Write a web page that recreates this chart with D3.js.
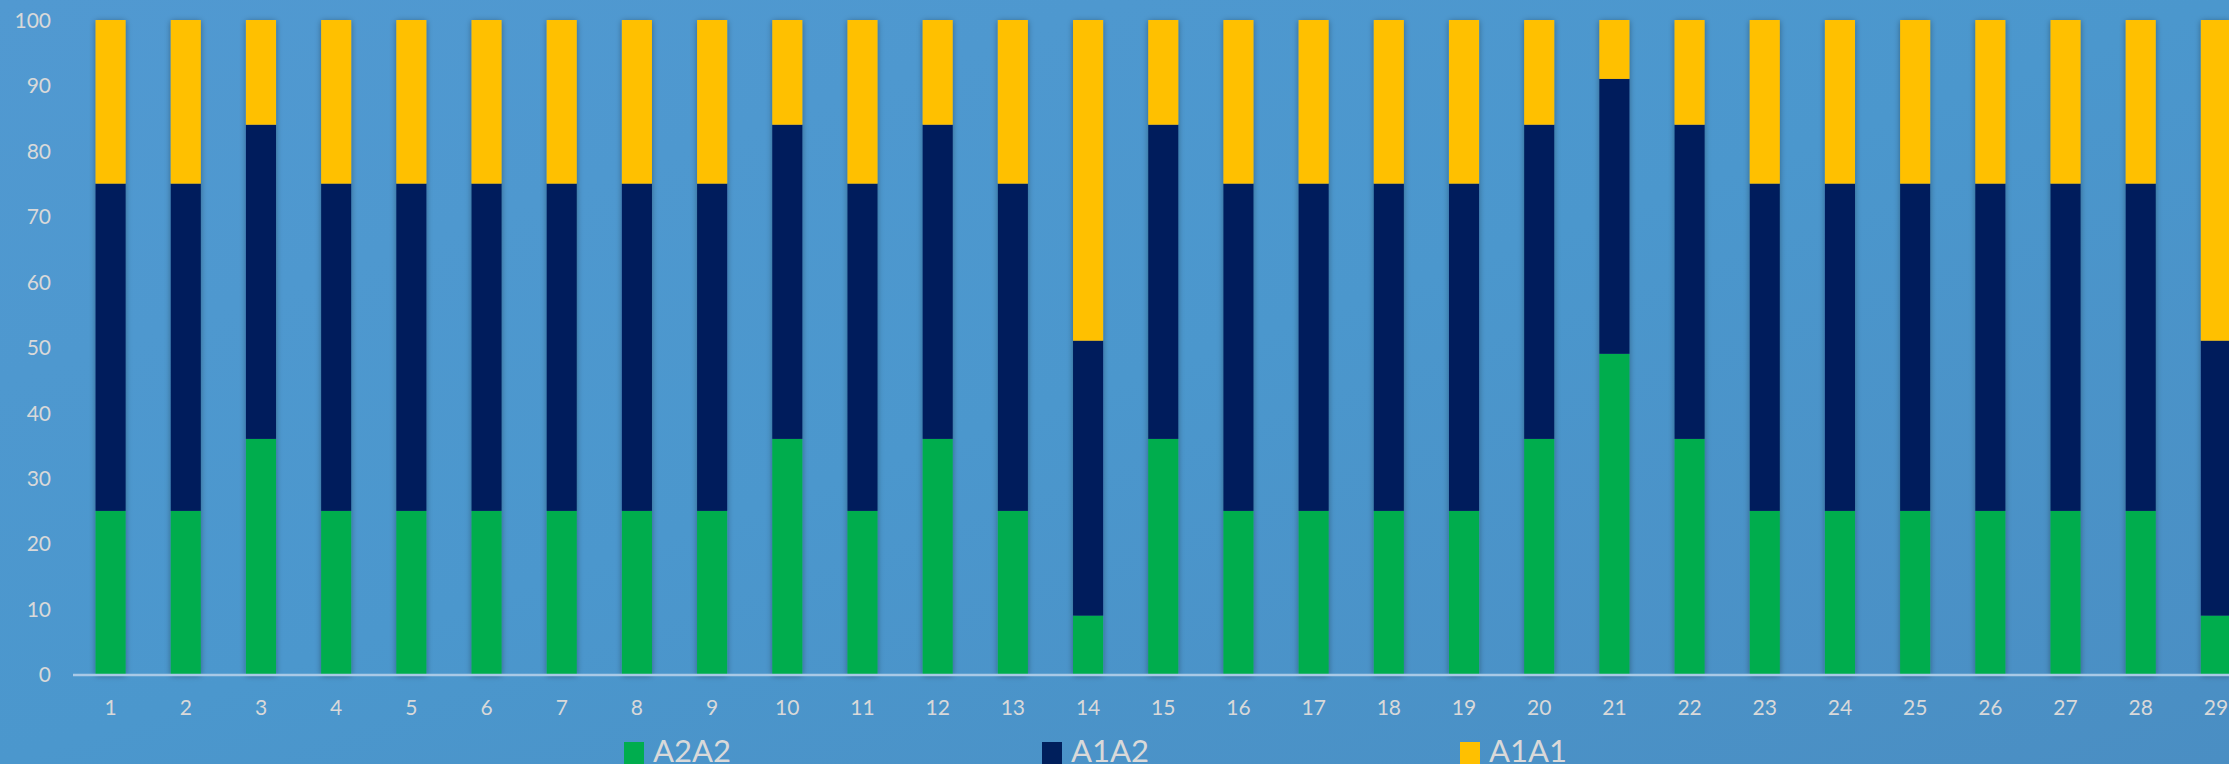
<!DOCTYPE html>
<html><head><meta charset="utf-8">
<script src="https://cdn.jsdelivr.net/npm/d3@7"></script>
<style>html,body{margin:0;padding:0;overflow:hidden;background:#4e97ce}</style>
</head><body><svg id="c" width="2229" height="764"></svg>
<script>
const categories = ["1","2","3","4","5","6","7","8","9","10","11","12","13","14","15","16","17","18","19","20","21","22","23","24","25","26","27","28","29"];
const seriesNames = ["A2A2","A1A2","A1A1"];
const A2A2 = [25,25,36,25,25,25,25,25,25,36,25,36,25,9,36,25,25,25,25,36,49,36,25,25,25,25,25,25,9];
const A1A2 = [50,50,48,50,50,50,50,50,50,48,50,48,50,42,48,50,50,50,50,48,42,48,50,50,50,50,50,50,42];
const A1A1 = [25,25,16,25,25,25,25,25,25,16,25,16,25,49,16,25,25,25,25,16,9,16,25,25,25,25,25,25,49];
const yTicks = [0,10,20,30,40,50,60,70,80,90,100];
const colors = ["#00ad4e","#001f5c","#ffc000"];

const W = 2229, H = 764;
const svg = d3.select("#c");
const defs = svg.append("defs");
const bg = defs.append("linearGradient").attr("id","bg").attr("x1","0").attr("y1","0").attr("x2","1").attr("y2","1");
bg.append("stop").attr("offset","0").attr("stop-color","#5199d1");
bg.append("stop").attr("offset","0.5").attr("stop-color","#4b97cd");
bg.append("stop").attr("offset","1").attr("stop-color","#4a8ec3");
const f = defs.append("filter").attr("id","sh").attr("x","-50%").attr("y","-5%").attr("width","200%").attr("height","110%");
f.append("feGaussianBlur").attr("in","SourceAlpha").attr("stdDeviation","3").attr("result","b");
f.append("feOffset").attr("in","b").attr("dx","0").attr("dy","1").attr("result","o");
f.append("feComponentTransfer").attr("in","o").attr("result","o2").append("feFuncA").attr("type","linear").attr("slope","0.35");
const fm = f.append("feMerge"); fm.append("feMergeNode").attr("in","o2"); fm.append("feMergeNode").attr("in","SourceGraphic");

svg.append("rect").attr("width",W).attr("height",H).attr("fill","url(#bg)");

const x0 = 73, step = 75.19;
const x = d3.scaleBand().domain(categories).range([x0, x0 + step*categories.length]).paddingInner(0.6).paddingOuter(0.3);
const y = d3.scaleLinear().domain([0,100]).range([674.5, 20]);

const rows = categories.map((c,i)=>({cat:c, A2A2:A2A2[i], A1A2:A1A2[i], A1A1:A1A1[i]}));
const stack = d3.stack().keys(seriesNames)(rows);

const g = svg.append("g").attr("filter","url(#sh)");
stack.forEach((s,si)=>{
  g.selectAll(null).data(s).enter().append("rect")
    .attr("x", d=>x(d.data.cat))
    .attr("width", x.bandwidth())
    .attr("y", d=>y(d[1]))
    .attr("height", d=>y(d[0])-y(d[1]))
    .attr("fill", colors[si]);
});

// axis line
svg.append("line").attr("x1",x0).attr("x2",W).attr("y1",y(0)+0.5).attr("y2",y(0)+0.5)
  .attr("stroke","#a9c9e6").attr("stroke-width",2.5);

const font = "Lato, 'Open Sans', sans-serif";
const yAxis = d3.axisLeft(y).tickValues(yTicks).tickSize(0).tickPadding(0);
const ya = svg.append("g").attr("transform","translate(51,0)").call(yAxis);
ya.select(".domain").remove();
ya.selectAll("text").attr("fill","#d9d9d9").style("font-family",font).style("font-size","21px").attr("dy","0.35em");

const xAxis = d3.axisBottom(x).tickSize(0).tickPadding(0);
const xa = svg.append("g").attr("transform","translate(0,700)").call(xAxis);
xa.select(".domain").remove();
xa.selectAll("text").attr("fill","#d9d9d9").style("font-family",font).style("font-size","21px").attr("dy","0.35em").attr("y",8);

// legend
const legX = [624, 1042, 1460];
const lg = svg.append("g");
seriesNames.forEach((n,i)=>{
  lg.append("rect").attr("x",legX[i]).attr("y",742).attr("width",20).attr("height",22).attr("fill",colors[i]);
  lg.append("text").attr("x",legX[i]+29).attr("y",762).text(n)
    .attr("fill","#d9d9d9").style("font-family",font).style("font-size","31px");
});
</script></body></html>
